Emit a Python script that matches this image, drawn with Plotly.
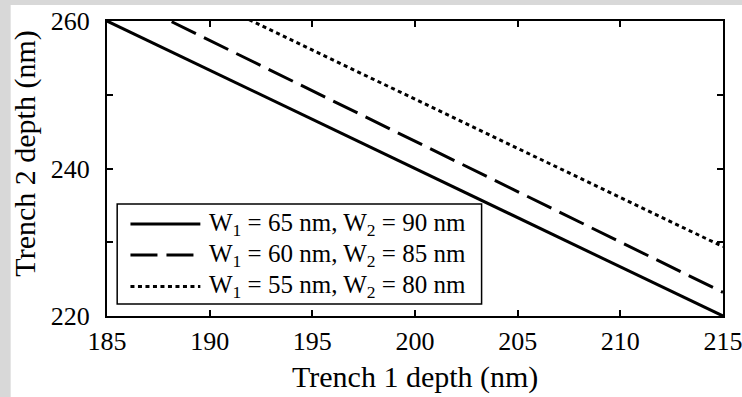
import plotly.graph_objects as go

# Data (straight lines, endpoints at x=185 and x=215)
trench1 = [185, 215]
solid_65_90 = [260.0, 220.0]
dash_60_85 = [264.2, 223.2]
dot_55_80 = [269.4, 229.4]

legend_labels = [
    "W<sub>1</sub> = 65 nm, W<sub>2</sub> = 90 nm",
    "W<sub>1</sub> = 60 nm, W<sub>2</sub> = 85 nm",
    "W<sub>1</sub> = 55 nm, W<sub>2</sub> = 80 nm",
]
x_ticks = [185, 190, 195, 200, 205, 210, 215]
y_ticks = [220, 230, 240, 250, 260]
y_ticktext = ["220", "", "240", "", "260"]

SERIF = "Liberation Serif"
W, H = 742, 397
L, R, T, B = 106.5, 18.5, 21, 81
PW, PH = W - L - R, H - T - B

def px2x(px):
    return (px - L) / PW

def py2y(py):
    return (H - B - py) / PH

series = [solid_65_90, dash_60_85, dot_55_80]
dashes = ["solid", "27px,9px", "4px,3.5px"]

fig = go.Figure()
for ys, d, lab in zip(series, dashes, legend_labels):
    fig.add_trace(go.Scatter(x=trench1, y=ys, mode="lines",
                             line=dict(color="black", width=3, dash=d),
                             name=lab, showlegend=False))

shapes = []
annotations = []
# white page area on grey background
shapes.append(dict(type="rect", xref="paper", yref="paper",
                   x0=px2x(10), x1=px2x(W + 5), y0=py2y(H + 5), y1=py2y(5),
                   fillcolor="white", line=dict(width=0), layer="below"))
# manual legend box
shapes.append(dict(type="rect", xref="paper", yref="paper",
                   x0=px2x(116.7), x1=px2x(481.7), y0=py2y(304), y1=py2y(204),
                   fillcolor="white", line=dict(color="black", width=1.5), layer="above"))
rows = [224, 255, 286.5]
for ry, d, lab in zip(rows, dashes, legend_labels):
    shapes.append(dict(type="line", xref="paper", yref="paper",
                       x0=px2x(130), x1=px2x(200), y0=py2y(ry), y1=py2y(ry),
                       line=dict(color="black", width=3, dash=d), layer="above"))
    annotations.append(dict(xref="paper", yref="paper", x=px2x(207), y=py2y(ry),
                            xanchor="left", yanchor="middle", showarrow=False,
                            text=lab, font=dict(family=SERIF, size=25, color="black")))

# axis titles
annotations.append(dict(xref="paper", yref="paper", x=px2x(414.5), y=py2y(377),
                        xanchor="center", yanchor="middle", showarrow=False,
                        text="Trench 1 depth (nm)",
                        font=dict(family=SERIF, size=30, color="black")))
annotations.append(dict(xref="paper", yref="paper", x=px2x(24), y=py2y(154),
                        xanchor="center", yanchor="middle", showarrow=False,
                        textangle=-90, text="Trench 2 depth (nm)",
                        font=dict(family=SERIF, size=30, color="black")))

axis_common = dict(showgrid=False, zeroline=False, showline=True, linecolor="black",
                   linewidth=2, mirror="ticks", ticks="inside", ticklen=6,
                   tickwidth=1.5, tickcolor="black", ticklabeloverflow="allow",
                   automargin=False,
                   tickfont=dict(family=SERIF, size=26, color="black"))

fig.update_layout(
    width=W, height=H,
    margin=dict(l=L, r=R, t=T, b=B, pad=0, autoexpand=False),
    paper_bgcolor="#d8d8d8", plot_bgcolor="white",
    showlegend=False,
    font=dict(family=SERIF, color="black"),
    shapes=shapes, annotations=annotations,
    xaxis=dict(range=[184.999, 215.001], tickvals=x_ticks, ticktext=[str(v) for v in x_ticks],
               ticklabelstandoff=1, **axis_common),
    yaxis=dict(range=[219.999, 260.001], tickvals=y_ticks, ticktext=y_ticktext,
               ticklabelstandoff=10, **axis_common),
)

fig.write_html("out.html")
